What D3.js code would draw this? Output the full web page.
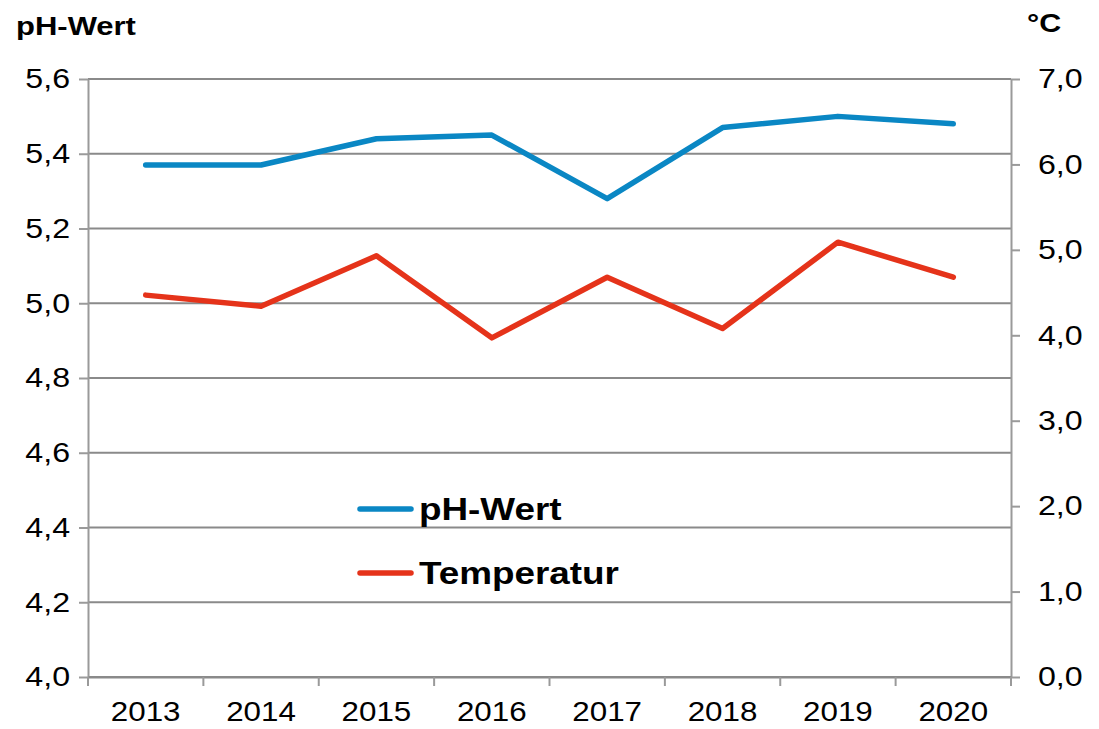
<!DOCTYPE html>
<html>
<head>
<meta charset="utf-8">
<script src="https://cdn.jsdelivr.net/npm/d3@7"></script>
<style>
  html, body { margin: 0; padding: 0; background: #fff; }
  svg { display: block; font-family: "Liberation Sans", Arial, sans-serif; }
  .sx { transform-box: fill-box; transform: scaleX(1.17); }
  .sx2 { transform-box: fill-box; transform: scaleX(1.12); }
  .sx-end { transform-origin: right center; }
  .sx-start { transform-origin: left center; }
  .sx-mid { transform-origin: center center; }
</style>
</head>
<body>
<svg id="chart" width="1099" height="729"></svg>
<script>
const years = ["2013", "2014", "2015", "2016", "2017", "2018", "2019", "2020"];
const phValues = [5.37, 5.37, 5.44, 5.45, 5.28, 5.47, 5.50, 5.48];
const tempValues = [4.47, 4.34, 4.93, 3.97, 4.68, 4.08, 5.09, 4.68];
const phTicks = [4.0, 4.2, 4.4, 4.6, 4.8, 5.0, 5.2, 5.4, 5.6];
const tempTicks = [0, 1, 2, 3, 4, 5, 6, 7];
const seriesNames = ["pH-Wert", "Temperatur"];
const leftTitle = "pH-Wert";
const rightTitle = "°C";

const svg = d3.select("#chart");
const L = 88, R = 1011, T = 79, B = 677;
const blue = "#0a87c4", red = "#e5331a";
const gridCol = "#8a8a8a", axisCol = "#9a9a9a";
const fmt = d => d3.format(".1f")(d).replace(".", ",");

const x = d3.scaleBand().domain(years).range([L, R]);
const yL = d3.scaleLinear().domain([4.0, 5.6]).range([B, T]);
const yR = d3.scaleLinear().domain([0, 7]).range([B, T]);

// gridlines
svg.append("g").selectAll("line").data(phTicks).join("line")
  .attr("x1", L).attr("x2", R)
  .attr("y1", d => yL(d)).attr("y2", d => yL(d))
  .attr("stroke", gridCol).attr("stroke-width", 2);

// left axis
const gL = svg.append("g").attr("transform", `translate(${L},0)`)
  .call(d3.axisLeft(yL).tickValues(phTicks).tickSize(9).tickSizeOuter(0).tickPadding(9).tickFormat(fmt));
// right axis
const gR = svg.append("g").attr("transform", `translate(${R},0)`)
  .call(d3.axisRight(yR).tickValues(tempTicks).tickSize(9).tickSizeOuter(0).tickPadding(18).tickFormat(fmt));
// bottom axis (labels at category centers)
const gB = svg.append("g").attr("transform", `translate(0,${B})`)
  .call(d3.axisBottom(x).tickSize(0).tickSizeOuter(0).tickPadding(24));

[gL, gR, gB].forEach(g => {
  g.select(".domain").attr("stroke", axisCol).attr("stroke-width", 2);
  g.selectAll(".tick line").attr("stroke", axisCol).attr("stroke-width", 2);
  g.selectAll("text").attr("fill", "#000").attr("font-family", "Liberation Sans, Arial, sans-serif");
});
gL.selectAll("text").attr("font-size", 27.5).attr("class", "sx sx-end");
gR.selectAll("text").attr("font-size", 27.5).attr("class", "sx sx-start");
gB.selectAll("text").attr("font-size", 28).attr("class", "sx2 sx-mid");
gB.select(".domain").attr("stroke", gridCol);

// category boundary ticks on bottom axis
const bounds = years.map(d => x(d)).concat([x.range()[1]]);
svg.append("g").selectAll("line").data(bounds).join("line")
  .attr("x1", d => d).attr("x2", d => d)
  .attr("y1", B).attr("y2", B + 9)
  .attr("stroke", axisCol).attr("stroke-width", 2);

// lines
const cx = d => x(d) + x.bandwidth() / 2;
const linePh = d3.line().x((d, i) => cx(years[i])).y(d => yL(d));
const lineT = d3.line().x((d, i) => cx(years[i])).y(d => yR(d));
svg.append("path").datum(phValues).attr("d", linePh)
  .attr("fill", "none").attr("stroke", blue).attr("stroke-width", 5.5)
  .attr("stroke-linejoin", "round").attr("stroke-linecap", "round");
svg.append("path").datum(tempValues).attr("d", lineT)
  .attr("fill", "none").attr("stroke", red).attr("stroke-width", 5.5)
  .attr("stroke-linejoin", "round").attr("stroke-linecap", "round");

// axis titles
svg.append("text").attr("x", 16).attr("y", 35).attr("font-size", 26.5).attr("font-weight", "bold")
  .attr("class", "sx sx-start").text(leftTitle);
svg.append("text").attr("x", 1027).attr("y", 32).attr("font-size", 26).attr("font-weight", "bold")
  .attr("class", "sx sx-start").text(rightTitle);

// legend
const legend = [
  { name: seriesNames[0], color: blue, y: 509 },
  { name: seriesNames[1], color: red, y: 573 }
];
const lg = svg.append("g").selectAll("g").data(legend).join("g");
lg.append("line").attr("x1", 360).attr("x2", 411)
  .attr("y1", d => d.y).attr("y2", d => d.y)
  .attr("stroke", d => d.color).attr("stroke-width", 5.5).attr("stroke-linecap", "round");
lg.append("text").attr("x", 419).attr("y", d => d.y + 11)
  .attr("font-size", 31.5).attr("font-weight", "bold").attr("class", "sx sx-start")
  .text(d => d.name);
</script>
</body>
</html>
